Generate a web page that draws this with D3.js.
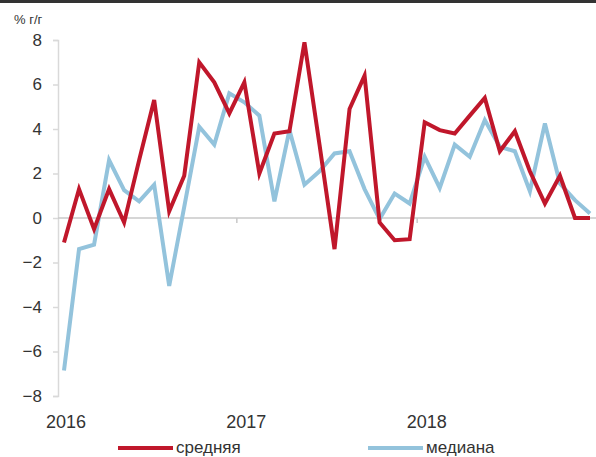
<!DOCTYPE html>
<html>
<head>
<meta charset="utf-8">
<script src="https://cdn.jsdelivr.net/npm/d3@7"></script>
<style>
  body { margin: 0; background: #fff; }
  svg { display: block; font-family: "Liberation Sans", Arial, sans-serif; }
</style>
</head>
<body>
<div id="chart"></div>
<script>
// monthly, Jan 2016 .. Dec 2018, % y/y
const months = d3.range(36);
const yearLabels = ["2016", "2017", "2018"];
const yTicks = [-8, -6, -4, -2, 0, 2, 4, 6, 8];

const mean = [-1.1, 1.3, -0.5, 1.3, -0.2, 2.6, 5.3, 0.3, 1.9, 7.0, 6.1, 4.7,
              6.1, 2.0, 3.8, 3.9, 7.9, 3.3, -1.4, 4.9, 6.4, -0.2, -1.0, -0.95,
              4.3, 3.95, 3.8, 4.6, 5.4, 3.0, 3.9, 2.1, 0.65, 1.9, 0, 0];
const median = [-6.85, -1.4, -1.2, 2.6, 1.25, 0.75, 1.5, -3.05, 0.5, 4.1, 3.3, 5.6,
                5.2, 4.6, 0.75, 3.95, 1.5, 2.1, 2.9, 3.0, 1.3, -0.05, 1.1, 0.65,
                2.75, 1.35, 3.3, 2.75, 4.4, 3.2, 3.0, 1.2, 4.25, 1.55, 0.8, 0.2];

const series = [
    { name: "средняя", values: mean, color: "#c0172b" },
    { name: "медиана", values: median, color: "#93c3dc" }
];

const width = 596, height = 457;
const svg = d3.select("#chart").append("svg")
    .attr("width", width).attr("height", height);

svg.append("rect").attr("width", width).attr("height", height).attr("fill", "#fff");
// dark rule on top
svg.append("rect").attr("x", 0).attr("y", 0).attr("width", width).attr("height", 3).attr("fill", "#333");

const x = d3.scaleLinear().domain([0, 35]).range([64, 590]);
const y = d3.scaleLinear().domain([-8, 8]).range([396, 40]);
const axisX = 58;

// y axis
const yAxis = svg.append("g")
    .attr("transform", `translate(${axisX},0)`)
    .call(d3.axisLeft(y).tickValues(yTicks).tickSize(5).tickPadding(11).tickFormat(d3.format("d")));
yAxis.select(".domain").attr("stroke", "#d9d9d9").attr("stroke-width", 1.5);
yAxis.selectAll(".tick line").attr("stroke", "#d9d9d9").attr("stroke-width", 1.5);
yAxis.selectAll(".tick text").attr("fill", "#333").style("font-size", "17px");

// zero line with year-boundary ticks
svg.append("line")
    .attr("x1", axisX).attr("x2", width)
    .attr("y1", y(0)).attr("y2", y(0))
    .attr("stroke", "#c8c8c8").attr("stroke-width", 1.5);
svg.selectAll(".ytick-x").data([11.5, 23.5]).join("line")
    .attr("x1", d => x(d)).attr("x2", d => x(d))
    .attr("y1", y(0)).attr("y2", y(0) + 5)
    .attr("stroke", "#c8c8c8").attr("stroke-width", 1.5);

// year labels at the bottom
svg.selectAll(".year").data(yearLabels).join("text")
    .attr("x", (d, i) => x(i * 12) + 2)
    .attr("y", 428)
    .attr("text-anchor", "middle")
    .attr("fill", "#333")
    .style("font-size", "18px")
    .text(d => d);

// unit label
svg.append("text")
    .attr("x", 14).attr("y", 24)
    .attr("fill", "#333")
    .style("font-size", "13px")
    .text("% г/г");

// lines
const line = d3.line()
    .x((d, i) => x(months[i]))
    .y(d => y(d));

svg.selectAll(".series").data([series[1], series[0]]).join("path")
    .attr("d", d => line(d.values))
    .attr("fill", "none")
    .attr("stroke", d => d.color)
    .attr("stroke-width", 4)
    .attr("stroke-linejoin", "miter");

// legend
const legendX = [118, 368];
const lg = svg.selectAll(".legend").data(series).join("g")
    .attr("transform", (d, i) => `translate(${legendX[i]},448)`);
lg.append("line")
    .attr("x1", 0).attr("x2", 55)
    .attr("stroke", d => d.color).attr("stroke-width", 4);
lg.append("text")
    .attr("x", 58).attr("y", 5)
    .attr("fill", "#333")
    .style("font-size", "17px")
    .text(d => d.name);
</script>
</body>
</html>
